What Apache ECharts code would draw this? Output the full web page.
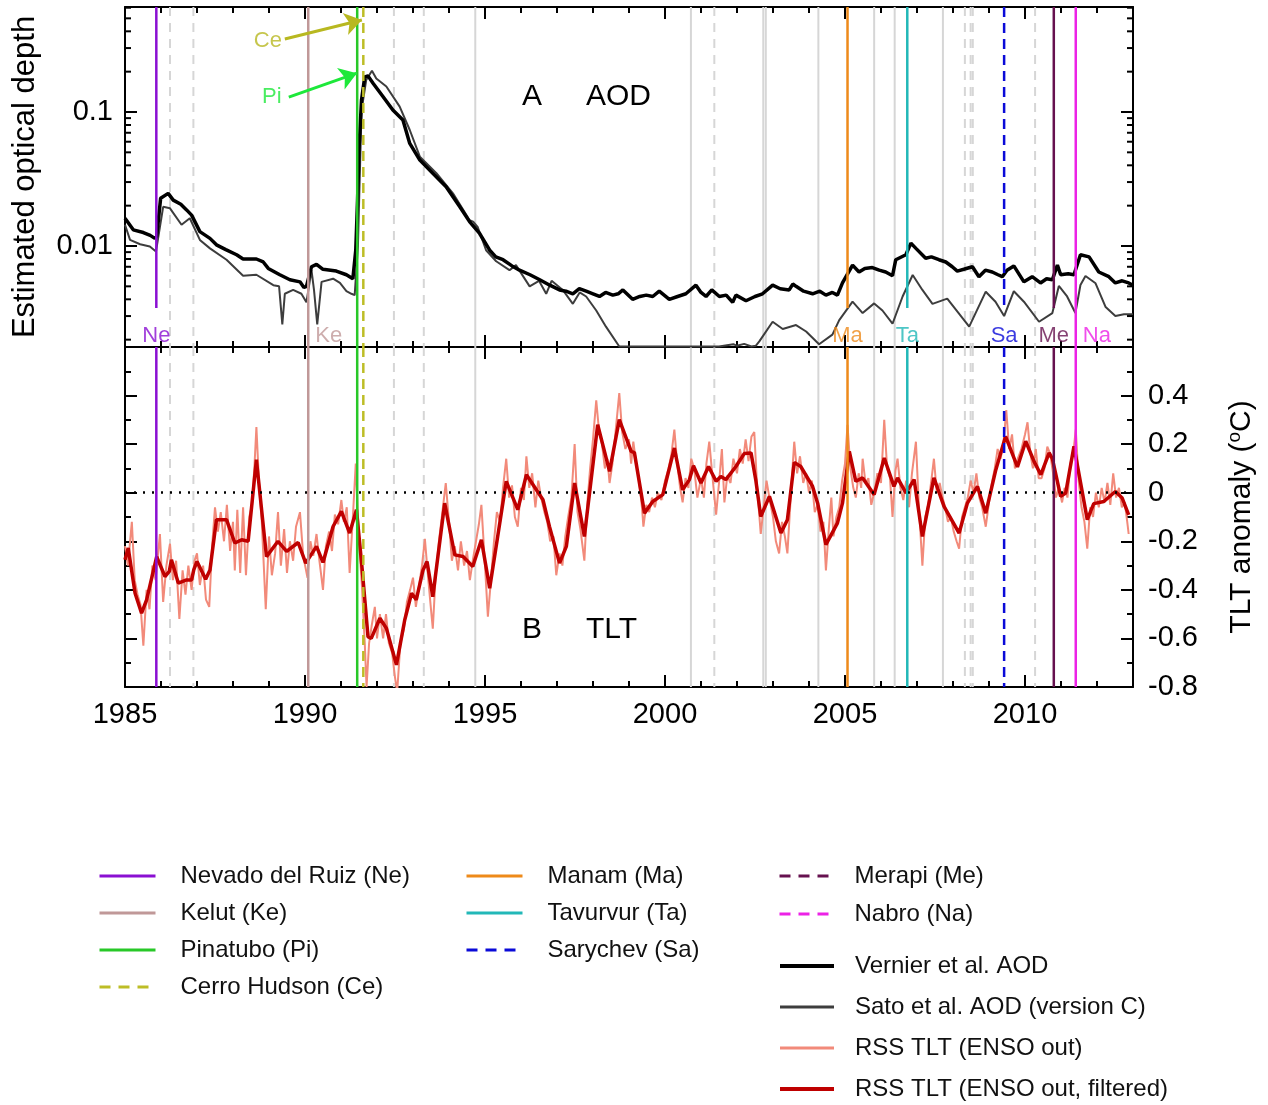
<!DOCTYPE html>
<html><head><meta charset="utf-8">
<script src="https://cdn.jsdelivr.net/npm/echarts@6/dist/echarts.min.js"></script>
<style>html,body{margin:0;padding:0;background:#fff}#main{width:1268px;height:1105px}</style>
</head><body><div id="main"></div>
<script>
// ---------------- DATA ----------------
const xTickLabels = [1985, 1990, 1995, 2000, 2005, 2010];
const aodTickLabels = [0.01, 0.1];
const aodMinorTicks = [0.002,0.003,0.004,0.005,0.006,0.007,0.008,0.009,0.02,0.03,0.04,0.05,0.06,0.07,0.08,0.09,0.2,0.3,0.4,0.5,0.6];
const tltTickLabels = [-0.8, -0.6, -0.4, -0.2, 0, 0.2, 0.4];

const volcanoNames = ['Nevado del Ruiz','Kelut','Pinatubo','Cerro Hudson','Manam','Tavurvur','Sarychev','Merapi','Nabro'];
const volcanoCodes = ['Ne','Ke','Pi','Ce','Ma','Ta','Sa','Me','Na'];
const volcanoYears = [1985.87, 1990.09, 1991.45, 1991.62, 2005.07, 2006.73, 2009.42, 2010.80, 2011.41];

const otherEruptionsSolid = [1994.73, 2000.72, 2002.73, 2002.80, 2004.26, 2005.81, 2006.38, 2007.72];
const otherEruptionsDashed = [1986.25, 1986.90, 1992.47, 1993.30, 2001.37, 2008.33, 2008.49, 2008.55, 2010.28];

const vernierAOD = [[1985.00,0.0161],[1985.23,0.0132],[1985.51,0.0126],[1985.70,0.0120],[1985.83,0.0114],[1985.88,0.0118],[1985.99,0.0227],[1986.20,0.0247],[1986.34,0.0220],[1986.55,0.0205],[1986.71,0.0186],[1986.85,0.0170],[1987.08,0.0128],[1987.36,0.0114],[1987.54,0.0102],[1987.80,0.0094],[1988.10,0.0086],[1988.28,0.0080],[1988.65,0.0080],[1988.84,0.0076],[1988.98,0.0068],[1989.30,0.0061],[1989.58,0.0056],[1989.86,0.0054],[1989.97,0.0049],[1990.04,0.0050],[1990.18,0.0070],[1990.32,0.0073],[1990.50,0.0067],[1990.87,0.0065],[1991.15,0.0061],[1991.33,0.0057],[1991.41,0.0093],[1991.46,0.022],[1991.50,0.052],[1991.57,0.123],[1991.66,0.183],[1991.75,0.186],[1991.89,0.164],[1992.17,0.130],[1992.44,0.1035],[1992.72,0.0871],[1992.91,0.0583],[1993.19,0.0438],[1993.55,0.0349],[1993.92,0.0277],[1994.30,0.0196],[1994.57,0.0152],[1994.85,0.0124],[1995.13,0.0093],[1995.30,0.0083],[1995.50,0.0079],[1995.75,0.0071],[1995.96,0.0066],[1996.25,0.0061],[1996.52,0.0056],[1996.80,0.0051],[1997.07,0.0047],[1997.25,0.0046],[1997.44,0.0044],[1997.62,0.0048],[1997.81,0.0046],[1998.00,0.0044],[1998.18,0.0042],[1998.35,0.0045],[1998.55,0.0043],[1998.70,0.0044],[1998.83,0.0047],[1999.10,0.0040],[1999.30,0.0042],[1999.48,0.0043],[1999.66,0.0042],[1999.84,0.0046],[2000.12,0.0040],[2000.35,0.0042],[2000.58,0.0044],[2000.86,0.0051],[2001.00,0.0045],[2001.14,0.0042],[2001.30,0.0047],[2001.51,0.0042],[2001.70,0.0043],[2001.88,0.0038],[2001.97,0.0043],[2002.25,0.0039],[2002.50,0.0042],[2002.71,0.0044],[2002.99,0.0051],[2003.20,0.0048],[2003.45,0.0047],[2003.55,0.0052],[2003.64,0.0050],[2003.85,0.0046],[2004.10,0.0044],[2004.30,0.0046],[2004.47,0.0043],[2004.65,0.0045],[2004.79,0.0043],[2004.93,0.0053],[2005.21,0.0072],[2005.39,0.0064],[2005.55,0.0068],[2005.76,0.0069],[2005.95,0.0066],[2006.13,0.0064],[2006.32,0.0060],[2006.41,0.0079],[2006.69,0.0086],[2006.83,0.0105],[2006.97,0.0096],[2007.24,0.0081],[2007.40,0.0083],[2007.61,0.0079],[2007.80,0.0076],[2007.98,0.0070],[2008.12,0.0065],[2008.30,0.0067],[2008.54,0.0070],[2008.72,0.0059],[2008.90,0.0066],[2009.09,0.0064],[2009.25,0.0061],[2009.37,0.0059],[2009.50,0.0066],[2009.69,0.0071],[2009.97,0.0054],[2010.20,0.0059],[2010.43,0.0053],[2010.60,0.0057],[2010.76,0.0056],[2010.90,0.0072],[2010.99,0.0061],[2011.20,0.0062],[2011.36,0.0061],[2011.54,0.0086],[2011.78,0.0083],[2012.05,0.0064],[2012.33,0.0059],[2012.51,0.0053],[2012.70,0.0055],[2012.88,0.0053],[2013.00,0.0051]];

const satoAOD = [[1985.00,0.0144],[1985.14,0.0111],[1985.42,0.0103],[1985.69,0.0099],[1985.86,0.0091],[1986.06,0.0196],[1986.25,0.0191],[1986.57,0.0144],[1986.80,0.0161],[1987.08,0.0111],[1987.36,0.0096],[1987.82,0.0079],[1988.28,0.0060],[1988.65,0.0061],[1989.12,0.0051],[1989.28,0.0050],[1989.37,0.0026],[1989.44,0.0044],[1989.67,0.0047],[1989.90,0.0044],[1990.04,0.0038],[1990.18,0.0066],[1990.25,0.0047],[1990.34,0.0026],[1990.46,0.0054],[1990.78,0.0057],[1990.97,0.0053],[1991.15,0.0046],[1991.29,0.0044],[1991.38,0.0043],[1991.47,0.0099],[1991.57,0.103],[1991.70,0.173],[1991.86,0.203],[1991.98,0.178],[1992.26,0.155],[1992.63,0.1096],[1992.91,0.0734],[1993.19,0.0464],[1993.65,0.0349],[1994.11,0.0247],[1994.57,0.0156],[1994.67,0.0152],[1994.80,0.0138],[1995.03,0.0093],[1995.31,0.0077],[1995.68,0.0066],[1995.86,0.0072],[1996.24,0.0050],[1996.50,0.0055],[1996.70,0.0044],[1996.85,0.0055],[1997.16,0.0047],[1997.44,0.0037],[1997.63,0.0045],[1997.81,0.0042],[1998.09,0.0033],[1998.36,0.0025],[1998.73,0.00178],[1999.50,0.00178],[2000.50,0.00178],[2001.50,0.00178],[2001.90,0.00185],[2002.00,0.00180],[2002.20,0.00186],[2002.40,0.00178],[2002.52,0.00180],[2002.62,0.00194],[2002.99,0.00272],[2003.27,0.0024],[2003.64,0.00257],[2003.92,0.0023],[2004.28,0.00185],[2004.65,0.00218],[2004.84,0.0028],[2005.21,0.00384],[2005.49,0.00316],[2005.81,0.00373],[2006.04,0.0033],[2006.32,0.00263],[2006.60,0.0042],[2006.88,0.00608],[2007.15,0.0047],[2007.43,0.0037],[2007.84,0.00405],[2008.45,0.0025],[2008.91,0.00456],[2009.18,0.00384],[2009.42,0.0030],[2009.69,0.0046],[2009.97,0.00384],[2010.39,0.00272],[2010.76,0.00316],[2010.94,0.00503],[2011.17,0.0042],[2011.40,0.00316],[2011.54,0.00512],[2011.68,0.00597],[2011.96,0.00527],[2012.24,0.0035],[2012.51,0.0030],[2012.75,0.0031],[2013.00,0.0031]];

const rssTLT = [[1985.00,-0.22],[1985.08,-0.30],[1985.19,-0.12],[1985.27,-0.36],[1985.35,-0.42],[1985.43,-0.46],[1985.51,-0.63],[1985.60,-0.40],[1985.68,-0.48],[1985.76,-0.30],[1985.85,-0.36],[1985.97,-0.17],
[1986.06,-0.45],[1986.15,-0.30],[1986.25,-0.21],[1986.33,-0.36],[1986.42,-0.28],[1986.51,-0.52],[1986.60,-0.32],[1986.68,-0.42],[1986.76,-0.30],[1986.85,-0.40],[1986.93,-0.28],
[1987.00,-0.25],[1987.08,-0.38],[1987.17,-0.30],[1987.25,-0.44],[1987.34,-0.47],[1987.42,-0.22],[1987.50,-0.06],[1987.58,-0.16],[1987.66,-0.08],[1987.75,-0.20],[1987.83,-0.05],[1987.92,-0.24],
[1988.00,-0.12],[1988.05,-0.32],[1988.12,-0.07],[1988.20,-0.33],[1988.28,-0.06],[1988.36,-0.34],[1988.45,-0.10],[1988.53,-0.05],[1988.60,0.12],[1988.65,0.27],[1988.72,0.05],[1988.80,-0.12],[1988.91,-0.48],
[1989.00,-0.18],[1989.08,-0.34],[1989.17,-0.25],[1989.25,-0.08],[1989.33,-0.30],[1989.42,-0.15],[1989.50,-0.33],[1989.58,-0.20],[1989.67,-0.28],[1989.75,-0.14],[1989.86,-0.08],[1989.95,-0.26],
[1990.07,-0.35],[1990.15,-0.20],[1990.23,-0.26],[1990.32,-0.17],[1990.40,-0.28],[1990.50,-0.40],[1990.58,-0.22],[1990.67,-0.16],[1990.75,-0.24],[1990.83,-0.09],[1990.92,-0.13],[1991.01,-0.03],
[1991.08,-0.12],[1991.16,-0.06],[1991.24,-0.33],[1991.33,-0.10],[1991.41,0.12],[1991.50,-0.20],[1991.58,-0.38],[1991.66,-0.62],[1991.71,-0.80],[1991.78,-0.62],[1991.85,-0.55],[1991.94,-0.47],[1992.00,-0.60],
[1992.08,-0.50],[1992.17,-0.60],[1992.25,-0.50],[1992.33,-0.62],[1992.42,-0.66],[1992.50,-0.76],[1992.56,-0.82],[1992.65,-0.62],[1992.75,-0.56],[1992.83,-0.45],[1992.92,-0.40],[1993.00,-0.35],
[1993.08,-0.47],[1993.17,-0.38],[1993.25,-0.30],[1993.33,-0.19],[1993.42,-0.35],[1993.50,-0.48],[1993.55,-0.56],[1993.63,-0.34],[1993.72,-0.20],[1993.80,-0.10],[1993.91,0.04],[1994.00,-0.12],
[1994.08,-0.28],[1994.16,-0.22],[1994.25,-0.32],[1994.33,-0.20],[1994.42,-0.30],[1994.50,-0.24],[1994.58,-0.36],[1994.66,-0.28],[1994.75,-0.20],[1994.83,-0.13],[1994.90,-0.05],[1995.00,-0.30],
[1995.08,-0.51],[1995.17,-0.35],[1995.25,-0.20],[1995.33,-0.08],[1995.42,-0.12],[1995.50,0.02],[1995.59,0.14],[1995.67,-0.02],[1995.75,0.03],[1995.83,-0.10],[1995.91,-0.14],[1996.00,0.02],
[1996.08,-0.03],[1996.15,0.15],[1996.23,0.02],[1996.31,0.08],[1996.40,-0.06],[1996.48,0.05],[1996.56,-0.02],[1996.65,-0.08],[1996.73,-0.12],[1996.81,-0.20],[1996.90,-0.18],[1996.98,-0.34],
[1997.07,-0.25],[1997.15,-0.30],[1997.23,-0.18],[1997.31,-0.10],[1997.40,-0.02],[1997.49,0.20],[1997.57,-0.08],[1997.65,-0.15],[1997.76,-0.28],[1997.84,-0.05],[1997.92,0.10],[1998.00,0.22],
[1998.09,0.38],[1998.17,0.25],[1998.25,0.20],[1998.33,0.10],[1998.40,0.14],[1998.46,0.04],[1998.54,0.12],[1998.62,0.24],[1998.73,0.41],[1998.81,0.25],[1998.90,0.18],[1999.00,0.22],
[1999.06,0.12],[1999.12,0.21],[1999.20,0.12],[1999.28,0.05],[1999.36,-0.06],[1999.40,-0.14],[1999.48,-0.05],[1999.56,-0.08],[1999.64,-0.02],[1999.72,-0.06],[1999.80,0.00],[1999.90,-0.03],
[2000.00,0.05],[2000.10,0.10],[2000.18,0.16],[2000.26,0.26],[2000.34,0.12],[2000.42,0.02],[2000.49,-0.04],[2000.57,0.06],[2000.65,0.02],[2000.73,0.14],[2000.81,0.10],[2000.90,-0.02],
[2001.00,0.06],[2001.08,-0.02],[2001.15,0.12],[2001.23,0.21],[2001.31,0.08],[2001.42,-0.09],[2001.50,0.04],[2001.58,0.18],[2001.65,-0.04],[2001.73,0.07],[2001.82,0.04],[2001.90,0.14],
[2002.00,0.08],[2002.08,0.18],[2002.16,0.12],[2002.24,0.22],[2002.32,0.13],[2002.40,0.23],[2002.48,0.25],[2002.56,0.02],[2002.66,-0.17],[2002.74,-0.06],[2002.82,0.05],[2002.90,-0.02],
[2003.00,-0.10],[2003.08,-0.20],[2003.17,-0.25],[2003.25,-0.12],[2003.33,-0.18],[2003.40,-0.25],[2003.48,-0.05],[2003.55,0.12],[2003.59,0.21],[2003.67,0.08],[2003.75,0.15],[2003.84,0.04],[2003.92,0.08],
[2004.00,0.00],[2004.08,0.05],[2004.16,-0.08],[2004.24,-0.05],[2004.32,-0.16],[2004.40,-0.12],[2004.47,-0.32],[2004.55,-0.15],[2004.62,-0.02],[2004.68,-0.18],[2004.76,-0.10],[2004.84,-0.06],[2004.92,0.05],
[2005.00,0.12],[2005.07,0.28],[2005.15,0.10],[2005.23,0.02],[2005.30,-0.02],[2005.38,0.08],[2005.45,0.02],[2005.49,0.14],[2005.57,0.04],[2005.65,0.06],[2005.73,-0.05],[2005.81,0.00],[2005.90,0.08],
[2006.00,0.04],[2006.09,0.30],[2006.17,0.10],[2006.25,0.06],[2006.32,-0.10],[2006.40,0.09],[2006.46,0.14],[2006.54,0.02],[2006.62,-0.03],[2006.70,0.05],[2006.78,-0.06],[2006.86,0.08],[2006.97,0.21],
[2007.05,-0.05],[2007.15,-0.30],[2007.23,-0.10],[2007.31,-0.05],[2007.39,0.04],[2007.47,0.14],[2007.55,0.00],[2007.63,0.04],[2007.71,-0.02],[2007.78,-0.06],[2007.86,-0.12],[2007.94,-0.10],
[2008.02,-0.16],[2008.10,-0.20],[2008.17,-0.23],[2008.25,-0.10],[2008.33,-0.06],[2008.41,-0.02],[2008.49,0.05],[2008.57,0.00],[2008.65,0.08],[2008.73,-0.02],[2008.81,-0.06],[2008.91,-0.14],
[2009.00,-0.04],[2009.08,0.04],[2009.16,0.10],[2009.24,0.18],[2009.32,0.14],[2009.40,0.20],[2009.48,0.34],[2009.56,0.18],[2009.64,0.24],[2009.72,0.10],[2009.80,0.14],[2009.90,0.18],
[2010.00,0.24],[2010.07,0.29],[2010.15,0.16],[2010.22,0.10],[2010.30,0.18],[2010.38,0.06],[2010.46,0.06],[2010.54,0.10],[2010.62,0.19],[2010.70,0.16],[2010.78,0.08],[2010.86,-0.02],[2010.94,0.02],
[2011.03,-0.04],[2011.10,0.02],[2011.18,-0.02],[2011.26,0.12],[2011.34,0.16],[2011.41,0.26],[2011.49,0.05],[2011.57,-0.06],[2011.65,-0.12],[2011.73,-0.23],[2011.81,-0.06],[2011.89,-0.10],[2011.97,0.00],
[2012.05,-0.06],[2012.13,0.02],[2012.21,-0.04],[2012.29,0.04],[2012.37,-0.05],[2012.45,0.08],[2012.53,-0.02],[2012.61,0.02],[2012.69,-0.06],[2012.77,-0.04],[2012.84,-0.12],[2012.88,-0.17]];

const rssTLTFiltered = [[1985.00,-0.276],[1985.09,-0.228],[1985.28,-0.414],[1985.46,-0.496],[1985.60,-0.441],[1985.88,-0.263],[1986.11,-0.345],[1986.23,-0.324],[1986.29,-0.276],[1986.48,-0.372],[1986.71,-0.359],[1986.85,-0.359],[1986.91,-0.318],[1987.00,-0.283],[1987.24,-0.356],[1987.36,-0.318],[1987.54,-0.111],[1987.82,-0.111],[1988.05,-0.207],[1988.24,-0.194],[1988.42,-0.200],[1988.65,0.136],[1988.93,-0.263],[1989.25,-0.200],[1989.49,-0.242],[1989.81,-0.205],[1990.02,-0.290],[1990.32,-0.221],[1990.50,-0.287],[1990.78,-0.139],[1991.01,-0.077],[1991.24,-0.166],[1991.43,-0.070],[1991.59,-0.318],[1991.75,-0.593],[1991.84,-0.600],[1992.08,-0.517],[1992.26,-0.558],[1992.54,-0.709],[1992.77,-0.524],[1992.96,-0.414],[1993.09,-0.441],[1993.28,-0.318],[1993.39,-0.283],[1993.55,-0.428],[1993.88,-0.043],[1994.16,-0.256],[1994.39,-0.263],[1994.66,-0.304],[1994.90,-0.194],[1995.13,-0.393],[1995.59,0.047],[1995.91,-0.070],[1996.15,0.074],[1996.61,-0.029],[1996.79,-0.139],[1997.07,-0.290],[1997.26,-0.221],[1997.49,0.040],[1997.76,-0.180],[1998.13,0.280],[1998.46,0.088],[1998.73,0.301],[1999.06,0.170],[1999.15,0.165],[1999.43,-0.084],[1999.66,-0.036],[1999.94,-0.008],[2000.26,0.184],[2000.49,0.012],[2000.68,0.054],[2000.79,0.111],[2001.00,0.040],[2001.21,0.108],[2001.42,0.047],[2001.55,0.067],[2001.69,0.054],[2001.97,0.108],[2002.20,0.161],[2002.39,0.164],[2002.52,0.054],[2002.66,-0.098],[2002.90,-0.015],[2003.22,-0.166],[2003.40,-0.111],[2003.59,0.125],[2003.77,0.108],[2004.10,0.026],[2004.24,-0.043],[2004.47,-0.214],[2004.79,-0.125],[2004.93,-0.043],[2005.12,0.170],[2005.30,0.047],[2005.49,0.061],[2005.81,-0.008],[2006.09,0.143],[2006.36,0.026],[2006.46,0.061],[2006.69,-0.001],[2006.92,0.054],[2007.15,-0.180],[2007.47,0.061],[2007.75,-0.056],[2008.17,-0.166],[2008.40,-0.043],[2008.68,0.026],[2008.91,-0.084],[2009.19,0.095],[2009.46,0.232],[2009.79,0.106],[2010.02,0.212],[2010.25,0.129],[2010.44,0.074],[2010.67,0.164],[2010.76,0.140],[2010.99,-0.015],[2011.13,-0.001],[2011.36,0.191],[2011.73,-0.111],[2011.91,-0.045],[2012.19,-0.036],[2012.51,0.005],[2012.70,-0.022],[2012.88,-0.091]];

// annotation arrows (data coordinates): [fromYear, fromAOD, toYear, toAOD]
const arrowPi = [1989.55, 0.129, 1991.44, 0.195];
const arrowCe = [1989.44, 0.351, 1991.58, 0.486];
const textPi = [1989.08, 0.129];
const textCe = [1988.97, 0.339];

// ---------------- STYLE ----------------
const FONT = '"Liberation Sans", Arial, Helvetica, sans-serif';
const X0 = 1985, X1 = 2013;
const AOD_MIN = 0.001763, AOD_MAX = 0.6075;
const AOD_SHORT_END = 0.003446;   // where short volcano lines stop in panel A
const AOD_LABEL_Y = 0.00212;      // volcano code label level in panel A
const TLT_MIN = -0.8, TLT_MAX = 0.6;
const volcanoStyle = {
  Ne: {color:'#8a0fd2', dash:false, shortLine:true,  beside:false},
  Ke: {color:'#c09898', dash:false, shortLine:false, beside:true},
  Pi: {color:'#28c828', dash:false, shortLine:false, beside:false, noLabel:true},
  Ce: {color:'#bdbd26', dash:true,  shortLine:false, beside:false, noLabel:true},
  Ma: {color:'#ee8a1a', dash:false, shortLine:true,  beside:false},
  Ta: {color:'#22b8b8', dash:false, shortLine:true,  beside:false},
  Sa: {color:'#0a0ad8', dash:true,  shortLine:true,  beside:false},
  Me: {color:'#66114f', dash:false, shortLine:true,  beside:false, legendDash:true},
  Na: {color:'#ec22e6', dash:false, shortLine:false, beside:true, legendDash:true}
};
const DASH = [10, 6];
const GRAY = '#d6d6d6';

// ---------------- AXES ----------------
function xAx(grid, pos, interval, len, showLine, labels) {
  return {
    type:'value', gridIndex:grid, position:pos, min:X0, max:X1, interval:interval,
    axisLine:{show:showLine, onZero:false, lineStyle:{color:'#000', width:2}},
    axisTick:{show:true, inside:true, length:len, lineStyle:{color:'#000', width:2}},
    axisLabel:{show:labels, margin:13, fontSize:29, color:'#000', fontFamily:FONT,
      showMaxLabel:false,
      formatter: v => xTickLabels.indexOf(Math.round(v)) >= 0 && Math.abs(v - Math.round(v)) < 1e-6 ? String(Math.round(v)) : ''},
    splitLine:{show:false}, axisPointer:{show:false}
  };
}
const xAxis = [
  xAx(0,'bottom',1,6,false,false), xAx(0,'bottom',5,12,true,false),
  xAx(0,'top',1,6,false,false),    xAx(0,'top',5,12,true,false),
  xAx(1,'bottom',1,6,false,false), xAx(1,'bottom',5,12,true,true),
  xAx(1,'top',1,6,false,false),    xAx(1,'top',5,12,true,false)
];
function aodLabel(v) {
  for (const t of aodTickLabels) if (Math.abs(v / t - 1) < 1e-6) return String(t);
  return '';
}
function tltLabel(v) {
  const r = Math.round(v * 10) / 10;
  if (tltTickLabels.indexOf(r) < 0) return '';
  return r === 0 ? '0' : r.toFixed(1);
}
const yAxis = [
  {type:'log', logBase:10, gridIndex:0, position:'left', min:AOD_MIN, max:AOD_MAX,
   axisLine:{show:true, onZero:false, lineStyle:{color:'#000', width:2}},
   axisTick:{show:true, inside:true, length:12, lineStyle:{color:'#000', width:2}},
   axisLabel:{show:true, margin:12, fontSize:29, color:'#000', fontFamily:FONT, formatter:aodLabel, showMinLabel:false, showMaxLabel:false},
   splitLine:{show:false},
   name:'Estimated optical depth', nameLocation:'middle', nameGap:84, nameRotate:90,
   nameTextStyle:{fontSize:31, color:'#000', fontFamily:FONT}},
  {type:'log', logBase:10, gridIndex:0, position:'right', min:AOD_MIN, max:AOD_MAX,
   axisLine:{show:true, onZero:false, lineStyle:{color:'#000', width:2}},
   axisTick:{show:true, inside:true, length:12, lineStyle:{color:'#000', width:2}},
   axisLabel:{show:false}, splitLine:{show:false}},
  {type:'value', gridIndex:1, position:'right', min:TLT_MIN, max:TLT_MAX, interval:0.2,
   axisLine:{show:true, onZero:false, lineStyle:{color:'#000', width:2}},
   axisTick:{show:true, inside:true, length:12, lineStyle:{color:'#000', width:2}},
   minorTick:{show:true, splitNumber:2, length:6, lineStyle:{color:'#000', width:2}},
   axisLabel:{show:true, margin:15, fontSize:29, color:'#000', fontFamily:FONT, formatter:tltLabel, showMaxLabel:false},
   splitLine:{show:false}, minorSplitLine:{show:false},
   name:'TLT anomaly ({s|o}C)', nameLocation:'middle', nameGap:92, nameRotate:90,
   nameTextStyle:{fontSize:30, color:'#000', fontFamily:FONT,
     rich:{s:{fontSize:19, color:'#000', fontFamily:FONT, verticalAlign:'top', padding:[0,0,14,0]}}}},
  {type:'value', gridIndex:1, position:'left', min:TLT_MIN, max:TLT_MAX, interval:0.2,
   axisLine:{show:true, onZero:false, lineStyle:{color:'#000', width:2}},
   axisTick:{show:true, inside:true, length:12, lineStyle:{color:'#000', width:2}},
   minorTick:{show:true, splitNumber:2, length:6, lineStyle:{color:'#000', width:2}},
   axisLabel:{show:false}, splitLine:{show:false}, minorSplitLine:{show:false}}
];

// ---------------- SERIES ----------------
const TOP = {xAxisIndex:1, yAxisIndex:0};
const BOT = {xAxisIndex:5, yAxisIndex:2};
const series = [];
function seg(axes, x, ya, yb, lineStyle, z, name) {
  const s = Object.assign({type:'line', data:[[x, ya],[x, yb]], symbol:'none', silent:true,
    lineStyle:lineStyle, itemStyle:{color:lineStyle.color}, z:z, animation:false}, axes);
  if (name) s.name = name;
  series.push(s);
}
// gray eruption markers
otherEruptionsSolid.forEach(x => {
  seg(TOP, x, AOD_MAX, AOD_MIN, {color:GRAY, width:2, type:'solid'}, 1);
  seg(BOT, x, TLT_MAX, TLT_MIN, {color:GRAY, width:2, type:'solid'}, 1);
});
otherEruptionsDashed.forEach(x => {
  seg(TOP, x, AOD_MAX, AOD_MIN, {color:GRAY, width:2, type:[9,7]}, 1);
  seg(BOT, x, TLT_MAX, TLT_MIN, {color:GRAY, width:2, type:[9,7]}, 1);
});

// log minor ticks
series.push({type:'custom', xAxisIndex:1, yAxisIndex:0, silent:true, z:6, animation:false,
  data: aodMinorTicks.map(v => [X0, v]), encode:{x:0, y:1},
  renderItem:(params, api) => {
    const v = api.value(1);
    const l = api.coord([X0, v]), r = api.coord([X1, v]);
    const st = {stroke:'#000', lineWidth:2};
    return {type:'group', children:[
      {type:'line', shape:{x1:l[0], y1:l[1], x2:l[0]+6, y2:l[1]}, style:st},
      {type:'line', shape:{x1:r[0]-6, y1:r[1], x2:r[0], y2:r[1]}, style:st}
    ]};
  }});

// data lines
series.push(Object.assign({type:'line', name:'Sato et al. AOD (version C)', data:satoAOD, symbol:'none',
  lineStyle:{color:'#3d3d3d', width:2}, itemStyle:{color:'#3d3d3d'}, z:2, animation:false}, TOP));
series.push(Object.assign({type:'line', name:'Vernier et al. AOD', data:vernierAOD, symbol:'none',
  lineStyle:{color:'#000', width:3.5}, itemStyle:{color:'#000'}, z:3, animation:false}, TOP));
series.push(Object.assign({type:'line', name:'RSS TLT (ENSO out)', data:rssTLT, symbol:'none',
  lineStyle:{color:'#f28a7a', width:2}, itemStyle:{color:'#f28a7a'}, z:2, animation:false}, BOT));
series.push(Object.assign({type:'line', name:'RSS TLT (ENSO out, filtered)', data:rssTLTFiltered, symbol:'none',
  lineStyle:{color:'#bf0000', width:3.5}, itemStyle:{color:'#bf0000'}, z:3, animation:false,
  markLine:{silent:true, symbol:'none', label:{show:false}, animation:false,
    lineStyle:{color:'#000', type:[2,7], width:2.5}, data:[{yAxis:0}]}}, BOT));

// volcano lines
volcanoCodes.forEach((c, i) => {
  const st = volcanoStyle[c];
  const name = volcanoNames[i] + ' (' + c + ')';
  const ls = {color:st.color, width:2.5, type: st.dash ? DASH : 'solid'};
  seg(TOP, volcanoYears[i], AOD_MAX, st.shortLine ? AOD_SHORT_END : AOD_MIN, ls, 4, name);
  seg(BOT, volcanoYears[i], TLT_MAX, TLT_MIN, ls, 4, name);
});

// labels (volcano codes, Pi / Ce) + arrows
const labelData = [];
volcanoCodes.forEach((c, i) => {
  const st = volcanoStyle[c];
  if (st.noLabel) return;
  labelData.push({value:[volcanoYears[i], AOD_LABEL_Y],
    label:{show:true, formatter:c, color:st.color, position: st.beside ? 'right' : 'inside', distance:7}});
});
labelData.push({value:textPi, label:{show:true, formatter:'Pi', color:'#1de83a', position:'inside'}});
labelData.push({value:textCe, label:{show:true, formatter:'Ce', color:'#b8b820', position:'inside'}});
series.push(Object.assign({type:'scatter', data:labelData, symbolSize:0, silent:true, z:7, animation:false,
  label:{fontSize:22, fontFamily:FONT},
  markLine:{silent:true, symbol:['none','arrow'], symbolSize:17, label:{show:false}, animation:false,
    data:[
      [{coord:[arrowPi[0], arrowPi[1]], lineStyle:{color:'#1de83a', width:3, type:'solid'}},
       {coord:[arrowPi[2], arrowPi[3]], lineStyle:{color:'#1de83a', width:3, type:'solid'}}],
      [{coord:[arrowCe[0], arrowCe[1]], lineStyle:{color:'#b8b820', width:3, type:'solid'}},
       {coord:[arrowCe[2], arrowCe[3]], lineStyle:{color:'#b8b820', width:3, type:'solid'}}]
    ]}}, TOP));

// ---------------- LEGENDS ----------------
function legItem(c) {
  const i = volcanoCodes.indexOf(c);
  const st = volcanoStyle[c];
  const it = {name: volcanoNames[i] + ' (' + c + ')', lineStyle:{width:3}};
  if (st.legendDash || st.dash) it.lineStyle.type = [11, 8];
  return it;
}
const legCommon = {orient:'vertical', itemWidth:56, itemHeight:14, selectedMode:false, padding:0,
  itemStyle:{opacity:0, borderWidth:0}, height:170,
  textStyle:{fontSize:24, color:'#111', fontFamily:FONT, padding:[0,0,0,20]}};
const legCol3Text = {fontSize:24, color:'#111', fontFamily:FONT, padding:[0,0,0,16]};
const legend = [
  Object.assign({}, legCommon, {left:98, top:864, itemGap:13, data:['Ne','Ke','Pi','Ce'].map(legItem)}),
  Object.assign({}, legCommon, {left:465, top:864, itemGap:13, data:['Ma','Ta','Sa'].map(legItem)}),
  Object.assign({}, legCommon, {left:778, top:864, itemGap:14, itemWidth:54, textStyle:legCol3Text, data:['Me','Na'].map(legItem)}),
  Object.assign({}, legCommon, {left:778, top:954, itemGap:17, itemWidth:54, textStyle:legCol3Text, height:150, data:[
    {name:'Vernier et al. AOD', lineStyle:{width:4}},
    {name:'Sato et al. AOD (version C)', lineStyle:{width:3}},
    {name:'RSS TLT (ENSO out)', lineStyle:{width:3}},
    {name:'RSS TLT (ENSO out, filtered)', lineStyle:{width:4}}]})
];

const chart = echarts.init(document.getElementById('main'), null, {renderer:'canvas'});
chart.setOption({
  animation:false,
  backgroundColor:'#fff',
  grid:[
    {left:125, top:7, width:1008, height:340, outerBoundsMode:'none'},
    {left:125, top:347, width:1008, height:340, outerBoundsMode:'none'}
  ],
  xAxis:xAxis, yAxis:yAxis, series:series, legend:legend,
  graphic:[
    {type:'text', left:522, top:82, style:{text:'A', fontSize:30, fill:'#000', fontFamily:FONT}},
    {type:'text', left:586, top:82, style:{text:'AOD', fontSize:30, fill:'#000', fontFamily:FONT}},
    {type:'text', left:522, top:615, style:{text:'B', fontSize:30, fill:'#000', fontFamily:FONT}},
    {type:'text', left:586, top:615, style:{text:'TLT', fontSize:30, fill:'#000', fontFamily:FONT}}
  ]
});
</script></body></html>
